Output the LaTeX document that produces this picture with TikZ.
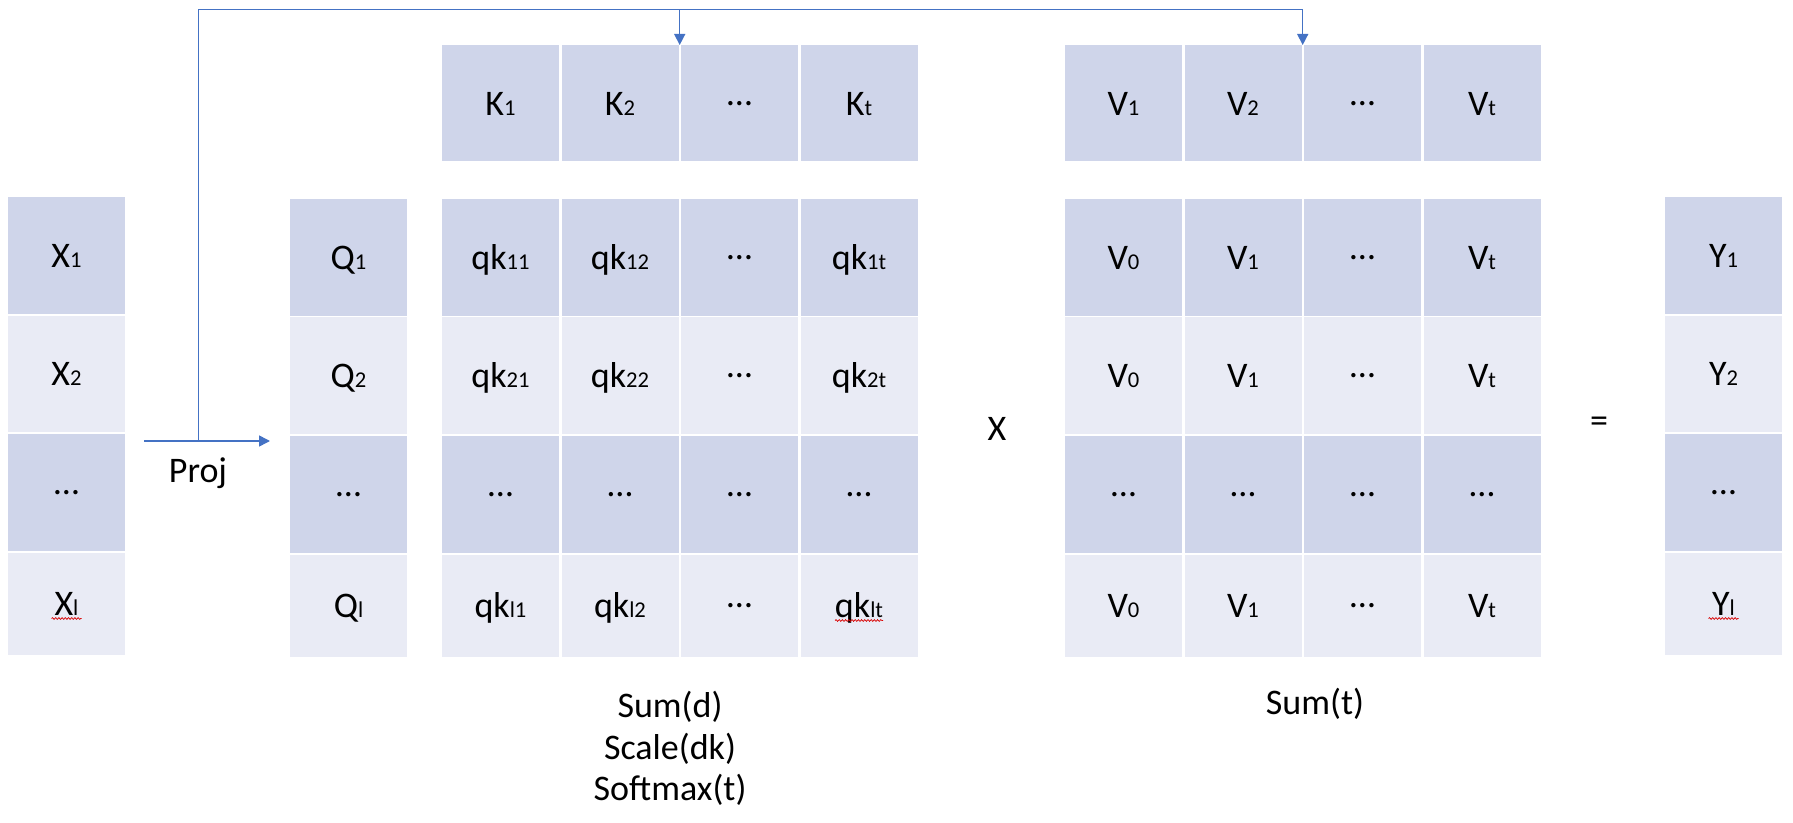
\documentclass[tikz,border=0pt]{standalone}
\usepackage{fontspec}
\setmainfont{Carlito}
\usetikzlibrary{matrix,positioning,arrows.meta}
\usetikzlibrary{decorations.pathmorphing}
\definecolor{celldark}{HTML}{CFD5EA}
\definecolor{celllight}{HTML}{E9EBF5}
\definecolor{arrowblue}{HTML}{4472C4}
\newcommand\lsub[1]{{\fontsize{11.3pt}{12pt}\selectfont #1}}
\newcommand\ellip{\raisebox{5pt}{…}}
\tikzset{
mymat/.style={
  matrix of nodes,
  nodes in empty cells,
  inner sep=0pt,
  outer sep=0pt,
  column sep=1.25pt,
  row sep=1pt,
  nodes={fill=celllight, inner sep=0pt, outer sep=0pt,
    minimum width=58.5pt, minimum height=58.25pt,
    text height=15pt, text depth=3pt},
  row 1/.style={nodes={fill=celldark}},
  row 3/.style={nodes={fill=celldark}},
  row 4/.style={nodes={minimum height=51pt}}
  },
flow/.style={draw=arrowblue, line width=0.75pt},
squig/.style={draw=red!85!black, line width=0.35pt, decorate,
  decoration={snake, amplitude=0.45pt, segment length=1.6pt}}
}
\begin{document}
\begin{tikzpicture}[x=0.5pt, y=-0.5pt, >={Triangle[width=5.5pt,length=5.5pt]},
  font=\fontsize{18pt}{20.8pt}\selectfont]
\useasboundingbox (0,0) rectangle (1793,823);

\matrix[mymat, anchor=north west] at (8,197) (x-mat)
{
  X\lsub{1} \\
  X\lsub{2} \\
  \ellip \\
  X\lsub{l} \\ };

\matrix[mymat, anchor=north west] at (290,199) (q-mat)
{
  Q\lsub{1} \\
  Q\lsub{2} \\
  \ellip \\
  Q\lsub{l} \\ };

\matrix[mymat, anchor=north west] at (442,45) (k-mat)
{
  K\lsub{1} & K\lsub{2} & \ellip & K\lsub{t} \\ };

\matrix[mymat, anchor=north west] at (442,199) (qk-mat)
{
  qk\lsub{11} & qk\lsub{12} & \ellip & qk\lsub{1t} \\
  qk\lsub{21} & qk\lsub{22} & \ellip & qk\lsub{2t} \\
  \ellip & \ellip & \ellip & \ellip \\
  qk\lsub{l1} & qk\lsub{l2} & \ellip & qk\lsub{lt} \\ };

\matrix[mymat, anchor=north west] at (1065,45) (vt-mat)
{
  V\lsub{1} & V\lsub{2} & \ellip & V\lsub{t} \\ };

\matrix[mymat, anchor=north west] at (1065,199) (v-mat)
{
  V\lsub{0} & V\lsub{1} & \ellip & V\lsub{t} \\
  V\lsub{0} & V\lsub{1} & \ellip & V\lsub{t} \\
  \ellip & \ellip & \ellip & \ellip \\
  V\lsub{0} & V\lsub{1} & \ellip & V\lsub{t} \\ };

\matrix[mymat, anchor=north west] at (1665,197) (y-mat)
{
  Y\lsub{1} \\
  Y\lsub{2} \\
  \ellip \\
  Y\lsub{l} \\ };

\node[anchor=base] (proj-lbl) at (198,482) {Proj};
\node (times-lbl) at (997,429) {X};
\node (eq-lbl) at (1599,425) {=};
\node[anchor=base, align=center] (sumd-lbl) at (670,800.7)
  {Sum(d)\\Scale(dk)\\Softmax(t)};
\node[anchor=base] (sumt-lbl) at (1315,714) {Sum(t)};

% projection and the feed to K and V
\coordinate (proj-in) at (144,441);
\coordinate (proj-split) at (198.7,441);
\coordinate (proj-out) at ([xshift=-10pt]q-mat.west);
\coordinate (rail) at (0,9.3);
\coordinate (k-in) at ([xshift=0.6pt]k-mat-1-2.north east);
\coordinate (v-in) at ([xshift=0.6pt]vt-mat-1-2.north east);

\draw[flow,->] (proj-in) -- (proj-in -| proj-out);
\draw[flow,->] (proj-split) -- (proj-split |- rail) -- (v-in |- rail) -- (v-in);
\draw[flow,->] (k-in |- rail) -- (k-in);

% spell-check marks
\draw[squig] ([xshift=-7.5pt,yshift=-1.5pt]x-mat-4-1.base) -- ++(15pt,0);
\draw[squig] ([xshift=-7.5pt,yshift=-1.5pt]y-mat-4-1.base) -- ++(15pt,0);
\draw[squig] ([xshift=-12pt,yshift=-1.5pt]qk-mat-4-4.base) -- ++(24pt,0);

\end{tikzpicture}
\end{document}
